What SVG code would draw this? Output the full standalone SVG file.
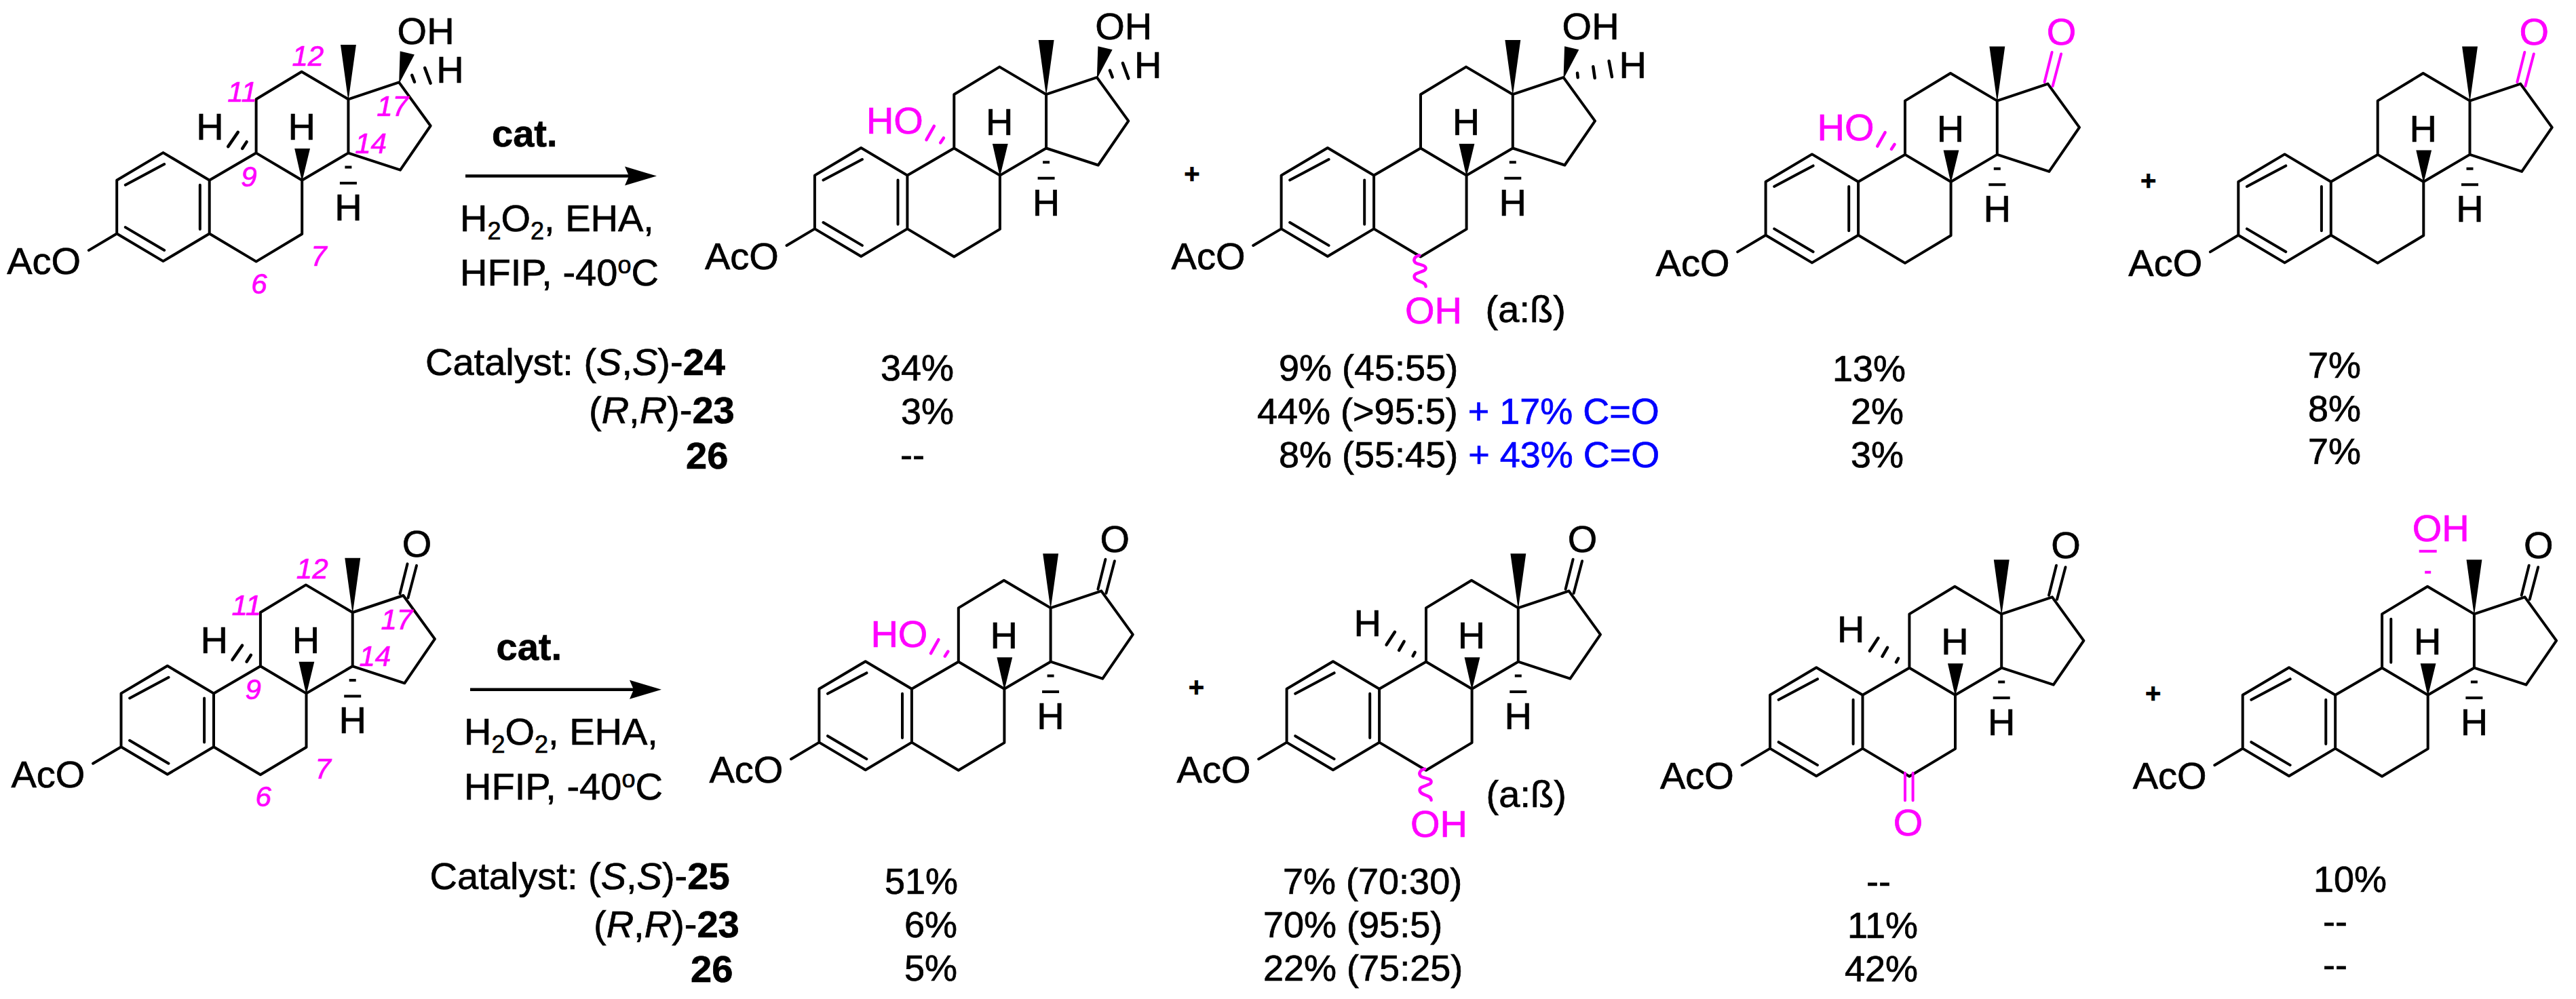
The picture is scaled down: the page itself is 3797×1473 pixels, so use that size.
<svg xmlns="http://www.w3.org/2000/svg" width="3797" height="1473" viewBox="0 0 3797 1473">
<style>
text{font-family:"Liberation Sans",Arial,sans-serif;font-size:56px;fill:#000;stroke:#000;stroke-width:.7}
.b{stroke:#000;stroke-width:4;fill:none;stroke-linejoin:round;stroke-linecap:round}
.d{stroke:#000;stroke-width:4;fill:none;stroke-linecap:butt}
.h{stroke:#000;stroke-width:4.5;fill:none;stroke-linecap:round}
.mg{stroke:#f0f;stroke-width:4;fill:none;stroke-linecap:round}
.hm{stroke:#f0f;stroke-width:4.5;fill:none;stroke-linecap:round}
.w{fill:#000}
text.p{fill:#f0f;stroke:#f0f}
text.n{fill:#f0f;stroke:#f0f;font-size:42px;font-style:italic}
text.v{font-size:54px}
.u{fill:#00f;stroke:#00f}
.c{text-anchor:middle}
.bd{font-weight:bold}
.i{font-style:italic}
.sub{font-size:36px}
text.pl{font-size:40px;font-weight:bold;text-anchor:middle}
</style>
<defs>
<g id="core">
<path class="b" d="M-273,78.8L-204.7,119.4L-136.5,78.8L-136.5,0L-204.7,-40.6L-273,0ZM-136.5,78.8L-67.6,119.9L0,79.3L0,0L-67.6,-40.1L-136.5,0M-67.6,-40.1L-67.6,-119.4L-0.6,-160L68.2,-119.4L68.2,-40.1L0,0M68.2,-119.4L142.9,-144.4L189.4,-80.2L144.8,-15.1L68.2,-40.1M-260.4,7L-203,-23.6M-260.4,69.4L-203,103.3M-150.4,7L-150.4,72.2M-273,78.8L-314.4,103.4"/>
<path class="w" d="M68.2,-117L56.8,-199.6L79.7,-199.6ZM0,2L-11,-46.6L11.8,-46.6Z"/>
<path class="d" d="M63.2,-19.3H73.2M55.7,4.2H80.7"/>
</g>
<g id="ket"><path class="b" d="M138,-147L149,-191M150,-141L162.5,-188.5"/></g>
<g id="ketm"><path class="mg" d="M138,-147L149,-191M150,-141L162.5,-188.5"/></g>
<path id="oh17w" class="w" d="M142.9,-142L144.5,-190.3L165.7,-185.3Z"/>
<path id="h2" class="h" d="M-94.4,-70.8L-109,-49.6M-81.6,-56.6L-88,-46.7"/>
<path id="h3" class="h" d="M-113.6,-84L-126,-65M-100,-70L-107.5,-57M-84,-54L-87,-48.5"/>
<path id="hm2" class="hm" d="M-97,-72.7L-108.4,-52.4M-83,-55.2L-87.7,-48.1"/>
<path id="h17" class="h" d="M162,-154.8L165.8,-144.9M181,-165.6L189.4,-143"/>
<path id="wav" class="hm" d="M-69.3,118C-76,119 -79,124 -76,128C-73,132 -60,131 -60,137C-60,143 -77,142 -77,149C-77,158 -60,155 -60,164"/>
<marker id="ah" markerUnits="userSpaceOnUse" markerWidth="48" markerHeight="28" refX="6" refY="14" orient="auto" overflow="visible"><path d="M0,0L47,14L0,28L6,14Z" fill="#000"/></marker>
</defs>

<g id="connectors">
<line x1="686" y1="259.6" x2="927" y2="259.6" stroke="#000" stroke-width="4.5" marker-end="url(#ah)"/>
<line x1="693" y1="1016.7" x2="934" y2="1016.7" stroke="#000" stroke-width="4.5" marker-end="url(#ah)"/>
</g>

<g id="mol-1" transform="translate(445.2,265.7)">
<use href="#core"/><use href="#oh17w"/><use href="#h2"/><use href="#h17"/>
<text x="-435" y="138.7">AcO</text><text class="c" x="-0.6" y="-59.5">H</text><text class="c" x="68.2" y="59">H</text><text class="c" x="-135.8" y="-59.5">H</text>
<text x="140.4" y="-200.5">OH</text><text x="198" y="-144">H</text>
<text class="n" x="-110" y="-115.7">11</text><text class="n" x="-14.7" y="-169">12</text><text class="n" x="110" y="-94.9">17</text><text class="n" x="78" y="-40">14</text><text class="n" x="-90" y="9">9</text><text class="n" x="13" y="126">7</text><text class="n" x="-75" y="167">6</text>
</g>
<g id="cond-1">
<text class="bd" x="725" y="216">cat.</text>
<text x="678" y="341">H<tspan class="sub" dy="12">2</tspan><tspan dy="-12">O</tspan><tspan class="sub" dy="12">2</tspan><tspan dy="-12">, EHA,</tspan></text>
<text x="678" y="421.4">HFIP, -40<tspan class="sub" dy="-18">o</tspan><tspan dy="18">C</tspan></text>
</g>
<g id="mol-2" transform="translate(1473.9,258.6)">
<use href="#core"/><use href="#oh17w"/><use href="#hm2"/><use href="#h17"/>
<text x="-435" y="138.7">AcO</text><text class="c" x="-0.6" y="-59.5">H</text><text class="c" x="68.2" y="59">H</text>
<text class="p" x="-197" y="-61.5">HO</text>
<text x="140.4" y="-200.5">OH</text><text x="198" y="-144">H</text>
</g>
<text id="plus-1" class="pl" x="1757" y="270">+</text>
<g id="mol-3" transform="translate(2161.6,258.6)">
<use href="#core"/><use href="#oh17w"/><use href="#wav"/>
<path class="h" d="M163.4,-150.9L164.1,-144.3M186.7,-160.3L189.1,-143.6M210,-168.6L214.4,-145.3"/>
<text x="-435" y="138.7">AcO</text><text class="c" x="-0.6" y="-59.5">H</text><text class="c" x="68.2" y="59">H</text>
<text x="141" y="-200.3">OH</text><text x="225" y="-143.3">H</text>
<text class="p" x="-90.6" y="218.7">OH</text><text x="28" y="216.4">(a:ß)</text>
</g>
<g id="mol-4" transform="translate(2875.6,268)">
<use href="#core"/><use href="#ketm"/><use href="#hm2"/>
<text x="-435" y="138.7">AcO</text><text class="c" x="-0.6" y="-59.5">H</text><text class="c" x="68.2" y="59">H</text>
<text class="p" x="-197" y="-61.5">HO</text><text class="p c" x="163" y="-202">O</text>
</g>
<text id="plus-2" class="pl" x="3166.6" y="279.6">+</text>
<g id="mol-5" transform="translate(3572.3,268)">
<use href="#core"/><use href="#ketm"/>
<text x="-435" y="138.7">AcO</text><text class="c" x="-0.6" y="-59.5">H</text><text class="c" x="68.2" y="59">H</text>
<text class="p c" x="163" y="-202">O</text>
</g>

<g id="table-1">
<text x="627" y="552.7">Catalyst: (<tspan class="i">S</tspan>,<tspan class="i">S</tspan>)-<tspan class="bd">24</tspan></text>
<text x="868" y="624.3">(<tspan class="i">R</tspan>,<tspan class="i">R</tspan>)-<tspan class="bd">23</tspan></text>
<text class="bd" x="1011" y="691">26</text>
<text class="v" x="1298" y="560.6">34%</text><text class="v" x="1328" y="625.3">3%</text><text class="v" x="1327" y="689">--</text>
<text class="v" x="1885" y="560.6">9% (45:55)</text>
<text class="v" x="1853" y="625.3">44% (&gt;95:5) <tspan class="u">+ 17% C=O</tspan></text>
<text class="v" x="1885" y="689">8% (55:45) <tspan class="u">+ 43% C=O</tspan></text>
<text class="v" x="2701" y="561.6">13%</text><text class="v" x="2728" y="625.3">2%</text><text class="v" x="2728" y="689">3%</text>
<text class="v" x="3402" y="557">7%</text><text class="v" x="3402" y="620.6">8%</text><text class="v" x="3402" y="684">7%</text>
</g>

<g id="mol-6" transform="translate(451.5,1022.4)">
<use href="#core"/><use href="#ket"/><use href="#h2"/>
<text x="-435" y="138.7">AcO</text><text class="c" x="-0.6" y="-59.5">H</text><text class="c" x="68.2" y="59">H</text><text class="c" x="-135.8" y="-59.5">H</text>
<text class="c" x="163" y="-201.4">O</text>
<text class="n" x="-110" y="-115.7">11</text><text class="n" x="-14.7" y="-169">12</text><text class="n" x="110" y="-94.9">17</text><text class="n" x="78" y="-40">14</text><text class="n" x="-90" y="9">9</text><text class="n" x="13" y="126">7</text><text class="n" x="-75" y="167">6</text>
</g>
<g id="cond-2">
<text class="bd" x="731.5" y="973">cat.</text>
<text x="684" y="1098">H<tspan class="sub" dy="12">2</tspan><tspan dy="-12">O</tspan><tspan class="sub" dy="12">2</tspan><tspan dy="-12">, EHA,</tspan></text>
<text x="684" y="1179">HFIP, -40<tspan class="sub" dy="-18">o</tspan><tspan dy="18">C</tspan></text>
</g>
<g id="mol-7" transform="translate(1480.4,1015.8)">
<use href="#core"/><use href="#ket"/><use href="#hm2"/>
<text x="-435" y="138.7">AcO</text><text class="c" x="-0.6" y="-59.5">H</text><text class="c" x="68.2" y="59">H</text>
<text class="p" x="-197" y="-61.5">HO</text><text class="c" x="163" y="-201.4">O</text>
</g>
<text id="plus-3" class="pl" x="1763.4" y="1027">+</text>
<g id="mol-8" transform="translate(2169.6,1015.8)">
<use href="#core"/><use href="#ket"/><use href="#h3"/><use href="#wav"/>
<text x="-435" y="138.7">AcO</text><text class="c" x="-0.6" y="-59.5">H</text><text class="c" x="68.2" y="59">H</text><text x="-174" y="-77.5">H</text>
<text class="c" x="163" y="-201.4">O</text>
<text class="p" x="-90.6" y="218">OH</text><text x="21" y="174">(a:ß)</text>
</g>
<g id="mol-9" transform="translate(2882,1024.8)">
<use href="#core"/><use href="#ket"/><use href="#h3"/>
<path class="mg" d="M-74,115V155.5M-62.4,115V155.5"/>
<text x="-435" y="138.7">AcO</text><text class="c" x="-0.6" y="-59.5">H</text><text class="c" x="68.2" y="59">H</text><text x="-174" y="-77.5">H</text>
<text class="c" x="163" y="-201.4">O</text><text class="p c" x="-69.5" y="207.6">O</text>
</g>
<text id="plus-4" class="pl" x="3173.6" y="1036">+</text>
<g id="mol-10" transform="translate(3578.7,1024.8)">
<use href="#core"/><use href="#ket"/>
<path class="b" d="M-54.4,-112V-48"/>
<path class="mg" style="stroke-linecap:butt" d="M-13,-212H13M-4.5,-181H4.5"/>
<text x="-435" y="138.7">AcO</text><text class="c" x="-0.6" y="-59.5">H</text><text class="c" x="68.2" y="59">H</text>
<text class="c" x="163" y="-201.4">O</text><text class="p" x="-23" y="-227">OH</text>
</g>

<g id="table-2">
<text x="633.6" y="1310.6">Catalyst: (<tspan class="i">S</tspan>,<tspan class="i">S</tspan>)-<tspan class="bd">25</tspan></text>
<text x="875" y="1381.7">(<tspan class="i">R</tspan>,<tspan class="i">R</tspan>)-<tspan class="bd">23</tspan></text>
<text class="bd" x="1018" y="1448">26</text>
<text class="v" x="1304" y="1317.7">51%</text><text class="v" x="1333" y="1381.7">6%</text><text class="v" x="1333" y="1445.7">5%</text>
<text class="v" x="1891" y="1317.7">7% (70:30)</text><text class="v" x="1862" y="1381.7">70% (95:5)</text><text class="v" x="1862" y="1445.7">22% (75:25)</text>
<text class="v" x="2751" y="1317.7">--</text><text class="v" x="2723" y="1383">11%</text><text class="v" x="2719" y="1446.6">42%</text>
<text class="v" x="3410" y="1315.3">10%</text><text class="v" x="3424" y="1377">--</text><text class="v" x="3424" y="1441">--</text>
</g>
</svg>
